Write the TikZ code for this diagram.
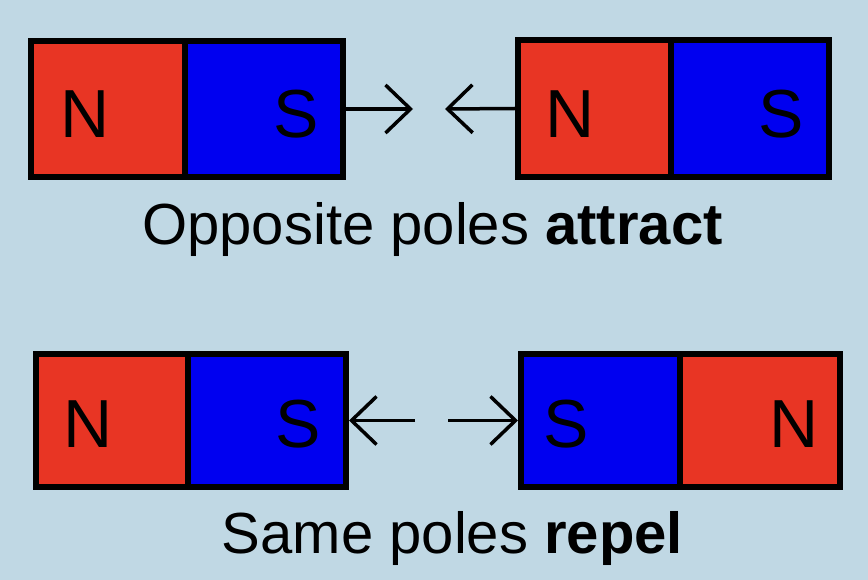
\documentclass[tikz,border=0pt]{standalone}
\usepackage{fontspec}
\setmainfont{Liberation Sans}
\usetikzlibrary{fit,arrows.meta}
\definecolor{bgc}{HTML}{C0D8E4}
\definecolor{nred}{HTML}{E83524}
\definecolor{sblue}{HTML}{0000F0}
\tikzset{
  half/.style={draw=black, line width=6pt, inner sep=0pt, rectangle},
  pole/.style={inner sep=0pt, font=\fontsize{68}{70}\selectfont},
  caption/.style={inner sep=0pt, font=\fontsize{58}{60}\selectfont},
  arr/.style={line width=3.5pt, -{Straight Barb[length=25pt,width=48pt,line width=3.5pt]}}
}
\begin{document}
\begin{tikzpicture}[x=1pt,y=-1pt]
\fill[bgc] (0,0) rectangle (868,580);
\useasboundingbox (0,0) rectangle (868,580);
% top-left magnet
\node[half, fill=nred, fit={(31,41) (185,177)}] (tlN) {};
\node[half, fill=sblue, fit={(185,41) (343,177)}] (tlS) {};
\node[pole, anchor=base west] (tlNt) at (60,138) {N};
\node[pole, anchor=base east] (tlSt) at (319,138) {S};
% top-right magnet
\node[half, fill=nred, fit={(518,40) (671,177)}] (trN) {};
\node[half, fill=sblue, fit={(671,40) (829,177)}] (trS) {};
\node[pole, anchor=base west] (trNt) at (545,138) {N};
\node[pole, anchor=base east] (trSt) at (804,138) {S};
% bottom-left magnet
\node[half, fill=nred, fit={(36,354) (188,487)}] (blN) {};
\node[half, fill=sblue, fit={(188,354) (346,487)}] (blS) {};
\node[pole, anchor=base west] (blNt) at (63,447) {N};
\node[pole, anchor=base east] (blSt) at (321,447) {S};
% bottom-right magnet
\node[half, fill=sblue, fit={(521,354) (680,487)}] (brS) {};
\node[half, fill=nred, fit={(680,354) (840,487)}] (brN) {};
\node[pole, anchor=base west] (brSt) at (543,447) {S};
\node[pole, anchor=base east] (brNt) at (819,447) {N};
% arrows
\coordinate (ta1) at (413,109);
\coordinate (ta2) at (445,109);
\draw[arr] (tlS.east) -- (ta1);
\draw[arr] (trN.west) -- (ta2);
\coordinate (ba1) at (415,420.5);
\coordinate (ba2) at (448,420.5);
\draw[arr] (ba1) -- (blS.east);
\draw[arr] (ba2) -- (brS.west);
% captions
\node[caption, anchor=base] (cap1) at (432.5,245) {Opposite poles \textbf{attract}};
\node[caption, anchor=base] (cap2) at (452.5,553) {Same poles \textbf{repel}};
\end{tikzpicture}
\end{document}
